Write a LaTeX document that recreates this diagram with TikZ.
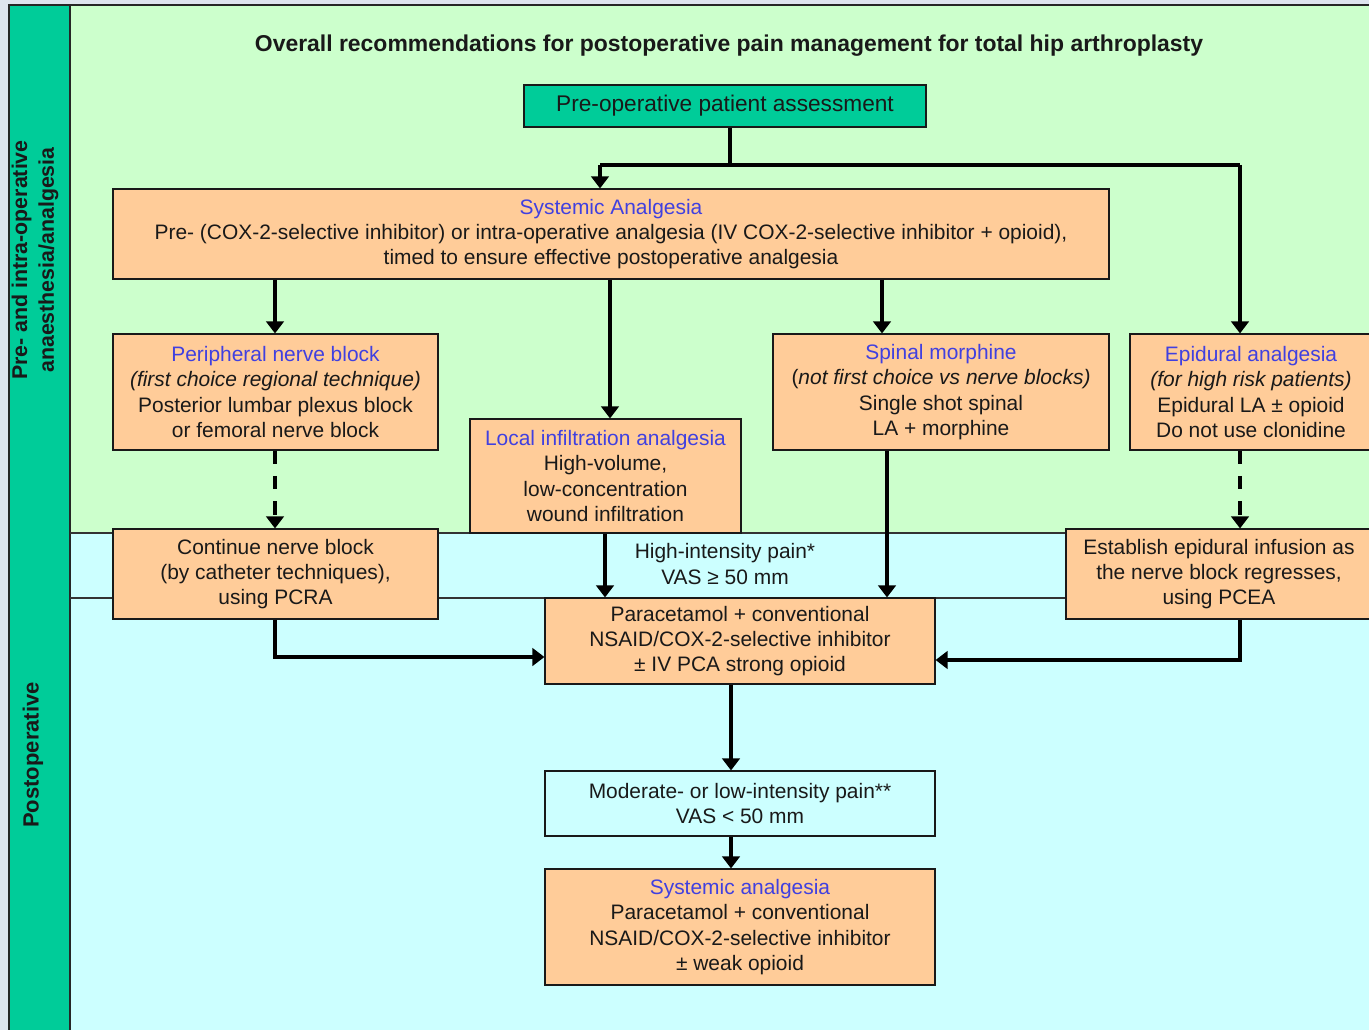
\documentclass[tikz,border=0pt]{standalone}
\usepackage{fontspec}
\setmainfont{Liberation Sans}
\usetikzlibrary{arrows.meta,calc}
\definecolor{bgout}{RGB}{222,228,238}
\definecolor{grn}{RGB}{204,255,204}
\definecolor{cyn}{RGB}{204,255,255}
\definecolor{sidec}{RGB}{0,204,153}
\definecolor{orng}{RGB}{255,204,153}
\definecolor{ttl}{RGB}{64,64,224}
\definecolor{ink}{RGB}{25,25,25}
\begin{document}
\begin{tikzpicture}[x=0.75pt,y=-0.75pt,
  box/.style={draw=ink, line width=0.8pt, fill=orng, align=center, text=ink,
    inner sep=0pt, font=\fontsize{15.7}{18.9}\selectfont},
  conn/.style={line width=2.6pt, draw=black},
  arr/.style={conn, -{Triangle[length=9pt,width=13pt]}},
  dsh/.style={arr, dash pattern=on 10pt off 9pt},
  frame/.style={draw=black!85, line width=1pt},
  band/.style={draw=black!80, line width=0.8pt}]
\useasboundingbox (0,0) rectangle (1369,1030);
% background
\fill[bgout] (0,0) rectangle (1369,1030);
\fill[grn] (9,5) rectangle (1372,533);
\fill[cyn] (9,533) rectangle (1372,1032);
\fill[sidec] (9,5) rectangle (70,1032);
\draw[frame] (9,1032) -- (9,5) -- (1372,5);
\draw[frame] (70,5) -- (70,1032);
\draw[band] (70,533) -- (1372,533);
\draw[band] (70,598) -- (1372,598);
% side labels
\node[rotate=90, align=center, font=\bfseries\fontsize{16}{20}\selectfont, text=ink] (side1) at (35,260)
  {Pre- and intra-operative\\anaesthesia/analgesia};
\node[rotate=90, font=\bfseries\fontsize{16.5}{20}\selectfont, text=ink] (side2) at (33,755) {Postoperative};
% title
\node[font=\bfseries\fontsize{17.2}{20}\selectfont, text=ink] (title) at (729,46)
  {Overall recommendations for postoperative pain management for total hip arthroplasty};
% boxes (centre, width and height in px)
\node[box, fill=sidec, minimum width=402*0.75pt, minimum height=42*0.75pt,
  font=\fontsize{17}{20}\selectfont] (preop) at (725,106)
  {Pre-operative patient assessment};
\node[box, minimum width=996*0.75pt, minimum height=90*0.75pt] (sys) at (611,234)
  {{\color{ttl}Systemic Analgesia}\\
   Pre- (COX-2-selective inhibitor) or intra-operative analgesia (IV COX-2-selective inhibitor + opioid),\\
   timed to ensure effective postoperative analgesia};
\node[box, minimum width=325*0.75pt, minimum height=116*0.75pt] (pnb) at (275.5,392)
  {{\color{ttl}Peripheral nerve block}\\
   \textit{(first choice regional technique)}\\
   Posterior lumbar plexus block\\
   or femoral nerve block};
\node[box, minimum width=271*0.75pt, minimum height=114*0.75pt] (lia) at (605.5,476)
  {{\color{ttl}Local infiltration analgesia}\\
   High-volume,\\
   low-concentration\\
   wound infiltration};
\node[box, minimum width=336*0.75pt, minimum height=116*0.75pt] (spm) at (941,392)
  {{\color{ttl}Spinal morphine}\\
   (\textit{not first choice vs nerve blocks)}\\
   Single shot spinal\\
   LA + morphine};
\node[box, minimum width=242*0.75pt, minimum height=116*0.75pt] (epi) at (1251,392)
  {{\color{ttl}Epidural analgesia}\\
   \textit{(for high risk patients)}\\
   Epidural LA ± opioid\\
   Do not use clonidine};
\node[box, minimum width=325*0.75pt, minimum height=90*0.75pt] (cont) at (275.5,574)
  {Continue nerve block\\
   (by catheter techniques),\\
   using PCRA};
\node[box, minimum width=306*0.75pt, minimum height=90*0.75pt] (est) at (1219,574)
  {Establish epidural infusion as\\
   the nerve block regresses,\\
   using PCEA};
\node[align=center, text=ink, font=\fontsize{15.7}{18.9}\selectfont] (hip) at (725,564)
  {High-intensity pain*\\VAS ≥ 50 mm};
\node[box, minimum width=390*0.75pt, minimum height=86*0.75pt] (para) at (740,641)
  {Paracetamol + conventional\\
   NSAID/COX-2-selective inhibitor\\
   ± IV PCA strong opioid};
\node[box, fill=cyn, minimum width=390*0.75pt, minimum height=65*0.75pt] (mod) at (740,803.5)
  {Moderate- or low-intensity pain**\\
   VAS < 50 mm};
\node[box, minimum width=390*0.75pt, minimum height=116*0.75pt] (sys2) at (740,927)
  {{\color{ttl}Systemic analgesia}\\
   Paracetamol + conventional\\
   NSAID/COX-2-selective inhibitor\\
   ± weak opioid};
% helper coordinates
\coordinate (split) at (730,165);
\coordinate (sl) at (600,165);
\coordinate (sr) at (1240,165);
\coordinate (xa) at (275,0);
\coordinate (xb) at (610,0);
\coordinate (xc) at (882,0);
\coordinate (xd) at (605,0);
\coordinate (xf) at (887,0);
\coordinate (xg) at (731,0);
\coordinate (ya) at (0,657);
\coordinate (yb) at (0,660);
% connectors
\draw[conn] (preop.south -| split) -- (split);
\draw[conn] (sl) -- (sr);
\draw[arr] (sl) -- (sl |- sys.north);
\draw[arr] (sr) -- (sr |- epi.north);
\draw[arr] (sys.south -| xa) -- (pnb.north -| xa);
\draw[arr] (sys.south -| xb) -- (lia.north -| xb);
\draw[arr] (sys.south -| xc) -- (spm.north -| xc);
\draw[dsh] (pnb.south -| xa) -- (cont.north -| xa);
\draw[dsh] (epi.south -| sr) -- (est.north -| sr);
\draw[arr] (lia.south -| xd) -- (para.north -| xd);
\draw[arr] (spm.south -| xf) -- (para.north -| xf);
\draw[arr] (cont.south -| xa) |- (para.west |- ya);
\draw[arr] (est.south -| sr) |- (para.east |- yb);
\draw[arr] (para.south -| xg) -- (mod.north -| xg);
\draw[arr] (mod.south -| xg) -- (sys2.north -| xg);
\end{tikzpicture}
\end{document}
